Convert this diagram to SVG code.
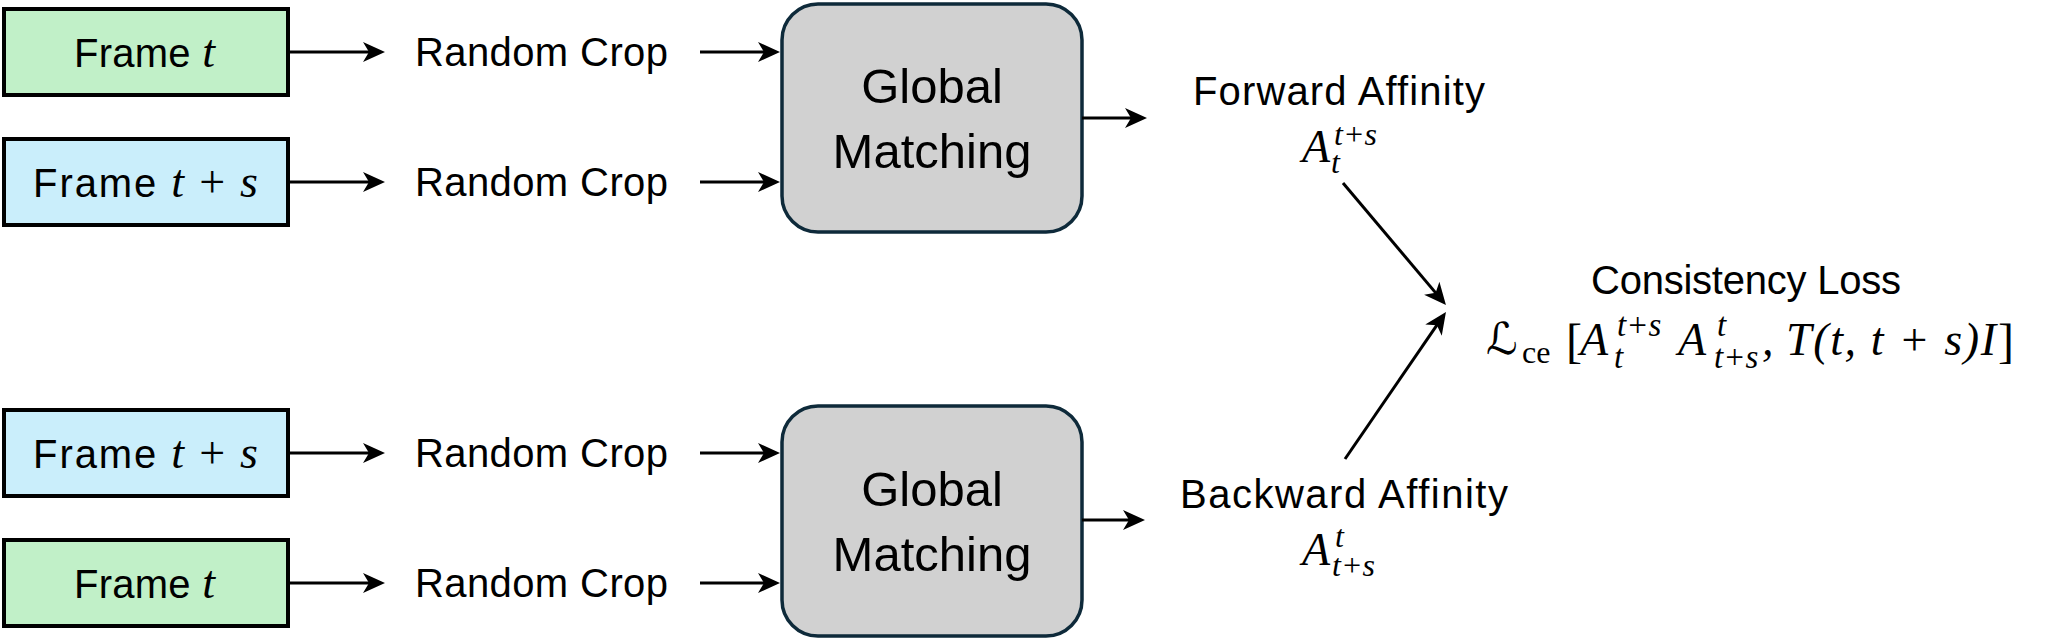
<svg xmlns="http://www.w3.org/2000/svg" width="2048" height="640" viewBox="0 0 2048 640">
<defs>
<marker id="ah" markerUnits="userSpaceOnUse" markerWidth="24" markerHeight="22" refX="12" refY="10" orient="auto">
<path d="M0,0 L22,10 L0,20 L6,10 Z" fill="#000"/>
</marker>
<style>
.frame{stroke:#000;stroke-width:4}
.green{fill:#c1f0c8}
.blue{fill:#caeefb}
.gm{fill:#d1d1d1;stroke:#0e2a3a;stroke-width:3.5}
.lbl{font-family:"Liberation Sans",Arial,sans-serif;font-size:40px;fill:#000}
.fr{font-family:"Liberation Sans",Arial,sans-serif;font-size:40px;fill:#000}
.gmt{font-family:"Liberation Sans",Arial,sans-serif;font-size:49px;fill:#000;text-anchor:middle}
.m{font-family:"Liberation Serif","Times New Roman",serif;font-style:italic;fill:#000}
.up{font-family:"Liberation Serif","Times New Roman",serif;font-style:normal;fill:#000}
.conn{stroke:#000;stroke-width:3;fill:none;marker-end:url(#ah)}
</style>
</defs>
<rect width="2048" height="640" fill="#fff"/>

<g id="frame-t-top">
<rect class="frame green" x="4" y="9" width="284" height="86"/>
<text class="fr" x="74" y="67" textLength="141">Frame <tspan class="m" font-size="46">t</tspan></text>
</g>
<g id="frame-ts-top">
<rect class="frame blue" x="4" y="139" width="284" height="86"/>
<text class="fr" x="33" y="197" textLength="225">Frame <tspan class="m" font-size="46">t</tspan> <tspan class="up" font-size="46">+</tspan> <tspan class="m" font-size="46">s</tspan></text>
</g>
<g id="frame-ts-bottom">
<rect class="frame blue" x="4" y="410" width="284" height="86"/>
<text class="fr" x="33" y="468" textLength="225">Frame <tspan class="m" font-size="46">t</tspan> <tspan class="up" font-size="46">+</tspan> <tspan class="m" font-size="46">s</tspan></text>
</g>
<g id="frame-t-bottom">
<rect class="frame green" x="4" y="540" width="284" height="86"/>
<text class="fr" x="74" y="598" textLength="141">Frame <tspan class="m" font-size="46">t</tspan></text>
</g>

<g id="crop-1"><text class="lbl" x="415" y="66" textLength="253">Random Crop</text></g>
<g id="crop-2"><text class="lbl" x="415" y="196" textLength="253">Random Crop</text></g>
<g id="crop-3"><text class="lbl" x="415" y="467" textLength="253">Random Crop</text></g>
<g id="crop-4"><text class="lbl" x="415" y="597" textLength="253">Random Crop</text></g>

<g id="gm-top">
<rect class="gm" x="782" y="4" width="300" height="228" rx="36" ry="36"/>
<text class="gmt" x="932" y="103">Global</text>
<text class="gmt" x="932" y="168">Matching</text>
</g>
<g id="gm-bottom">
<rect class="gm" x="782" y="406" width="300" height="230" rx="36" ry="36"/>
<text class="gmt" x="932" y="506">Global</text>
<text class="gmt" x="932" y="571">Matching</text>
</g>

<g id="forward-affinity">
<text class="lbl" x="1193" y="105" textLength="292">Forward Affinity</text>
<text class="m" x="1302" y="162" font-size="46">A</text>
<text class="m" x="1334" y="145" font-size="32">t+s</text>
<text class="m" x="1331" y="173" font-size="32">t</text>
</g>

<g id="backward-affinity">
<text class="lbl" x="1180" y="508" textLength="328">Backward Affinity</text>
<text class="m" x="1302" y="565" font-size="46">A</text>
<text class="m" x="1335" y="547" font-size="32">t</text>
<text class="m" x="1332" y="576" font-size="32">t+s</text>
</g>

<g id="consistency-loss">
<text class="lbl" x="1591" y="294" textLength="310">Consistency Loss</text>
<text x="1486" y="354" font-family="DejaVu Serif, DejaVu Sans, serif" font-size="44" fill="#000">ℒ</text>
<text class="up" x="1522" y="363" font-size="32">ce</text>
<text class="up" x="1566" y="357" font-size="48">[</text>
<text class="m" x="1580" y="355" font-size="46">A</text>
<text class="m" x="1617" y="336" font-size="33">t+s</text>
<text class="m" x="1614" y="368" font-size="33">t</text>
<text class="m" x="1678" y="355" font-size="46">A</text>
<text class="m" x="1717" y="336" font-size="33">t</text>
<text class="m" x="1714" y="368" font-size="33">t+s</text>
<text class="m" x="1762" y="355" font-size="46">,</text>
<text class="m" x="1786" y="355" font-size="46" textLength="210">T(t, t + s)I</text>
<text class="up" x="1998" y="357" font-size="48">]</text>
</g>

<g id="connectors">
<line class="conn" x1="290" y1="52" x2="375" y2="52"/>
<line class="conn" x1="290" y1="182" x2="375" y2="182"/>
<line class="conn" x1="290" y1="453" x2="375" y2="453"/>
<line class="conn" x1="290" y1="583" x2="375" y2="583"/>
<line class="conn" x1="700" y1="52" x2="770" y2="52"/>
<line class="conn" x1="700" y1="182" x2="770" y2="182"/>
<line class="conn" x1="700" y1="453" x2="770" y2="453"/>
<line class="conn" x1="700" y1="583" x2="770" y2="583"/>
<line class="conn" x1="1082" y1="118" x2="1137" y2="118"/>
<line class="conn" x1="1082" y1="520" x2="1135" y2="520"/>
<line class="conn" x1="1343" y1="183" x2="1439.5" y2="297.4"/>
<line class="conn" x1="1345" y1="459" x2="1440.3" y2="320.2"/>
</g>
</svg>
